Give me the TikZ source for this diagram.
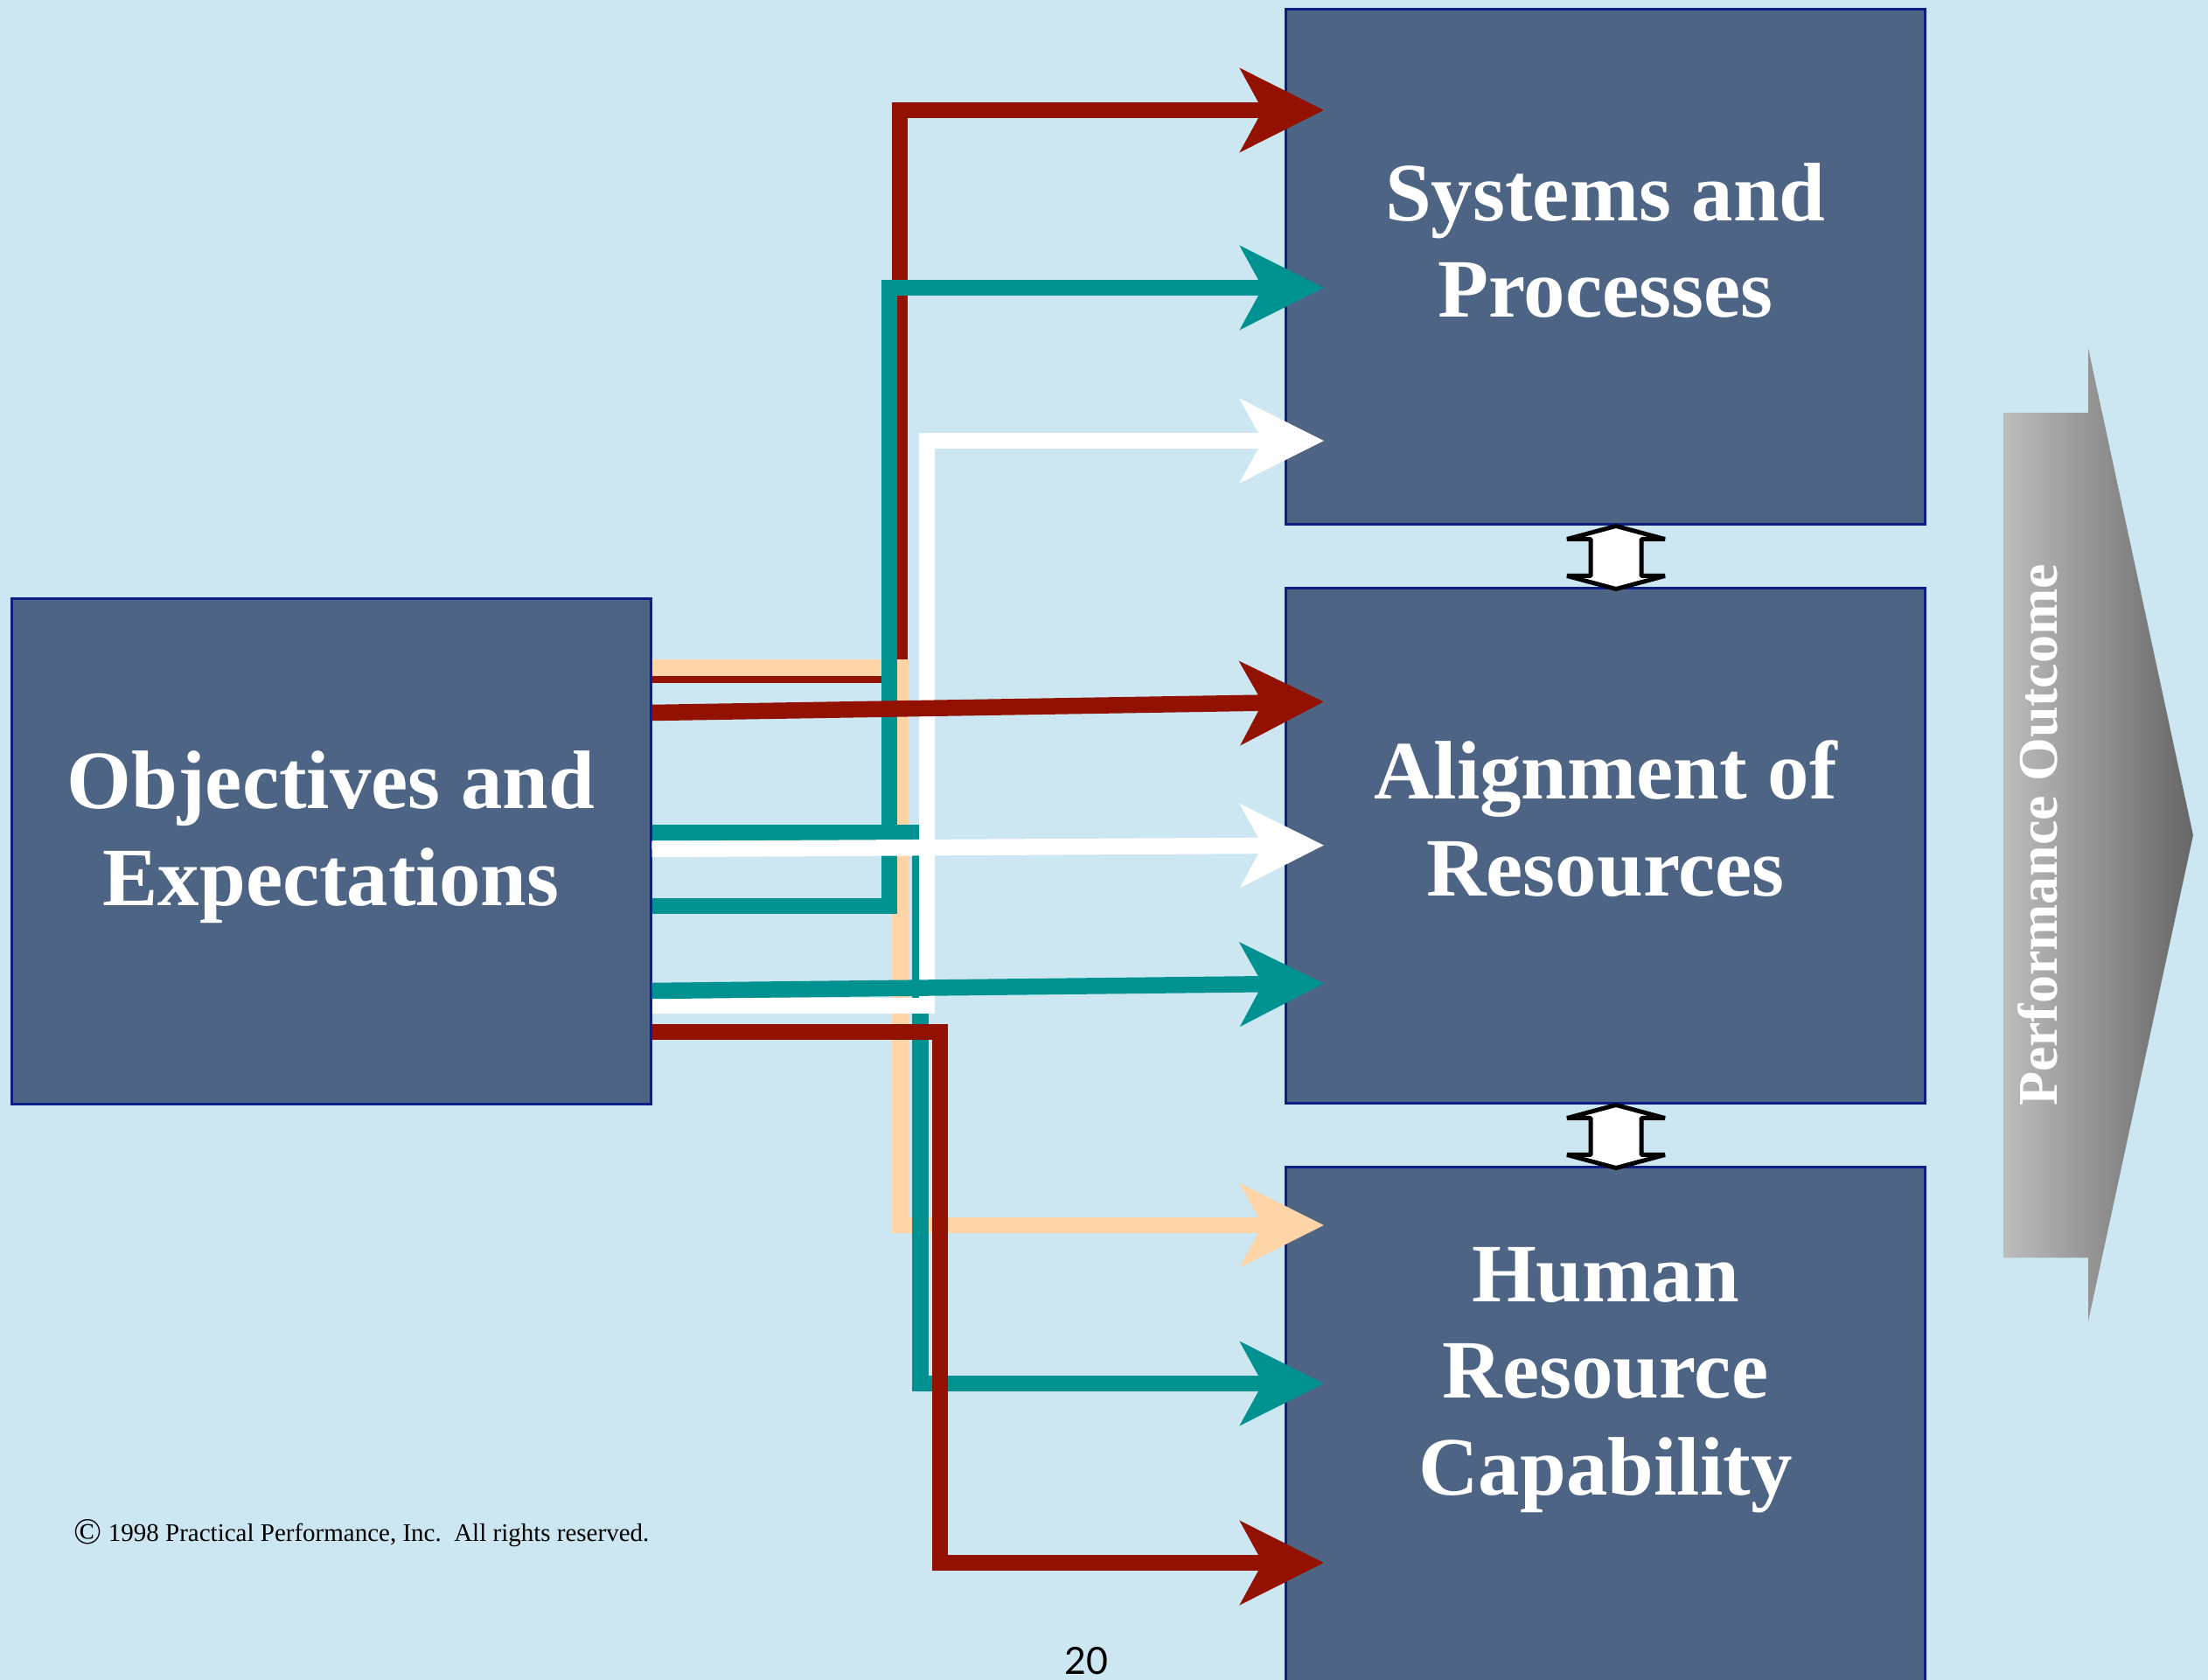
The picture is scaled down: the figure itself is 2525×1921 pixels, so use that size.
\documentclass[tikz,border=0pt]{standalone}
\usepackage{fontspec}
\setmainfont{Liberation Serif}
\newfontfamily\pagefont{Lato}
\usetikzlibrary{positioning,arrows.meta}

\definecolor{bgblue}{HTML}{CCE6F2}
\definecolor{boxblue}{HTML}{4E6485}
\definecolor{boxline}{HTML}{0D1E87}
\definecolor{flowred}{HTML}{931100}
\definecolor{flowteal}{HTML}{009191}
\definecolor{flowpeach}{HTML}{FFD4A6}
\definecolor{outlight}{HTML}{BDBDBD}
\definecolor{outdark}{HTML}{666666}

\begin{document}
\begin{tikzpicture}[x=0.1mm,y=-0.1mm,
    box/.style={draw=boxline,line width=0.3mm,fill=boxblue,minimum width=73.1mm,minimum height=58.9mm,inner sep=0pt},
    boxtext/.style={text=white,font=\bfseries\fontsize{27}{31.5}\selectfont,align=center},
    flow/.style={line width=1.85mm,-{Stealth[length=9.5mm,width=9.4mm,inset=2.5mm]}},
    updown/.style={draw=black,fill=white,line width=0.5mm,line join=bevel}]
                \useasboundingbox (0,0) rectangle (2525,1921);
                \clip (0,0) rectangle (2525,1921);
                \fill[bgblue] (0,0) rectangle (2525,1921);

                % the four blocks
                \node[box,minimum height=57.8mm] (objbox) at (378.5,973) {};
                \node[box] (sysbox) at (1836,305.5) {};
                \node[box,below=7mm of sysbox] (resbox) {};
                \node[box,below=7mm of resbox] (hrbox) {};
                \node[boxtext] (objtext) at ([yshift=1.6mm]objbox.center) {Objectives and\\Expectations};
                \node[boxtext] (systext) at ([yshift=3.05mm]sysbox.center) {Systems and\\Processes};
                \node[boxtext] (restext) at ([yshift=3.1mm]resbox.center) {Alignment of\\Resources};
                \node[boxtext] (hrtext) at ([yshift=5.15mm]hrbox.center) {Human\\Resource\\Capability};

                % flows, back to front
                \draw[flow,flowred] ([yshift=20.1mm]objbox.east) -- ++(283.5,0) |- ([xshift=4.5mm,yshift=17.95mm]sysbox.west);
                \draw[flow,flowpeach] ([yshift=20.95mm]objbox.east) -- ++(284,0) |- ([xshift=4.5mm,yshift=22.85mm]hrbox.west);
                \draw[flow,flowteal] ([yshift=-6.3mm]objbox.east) -- ++(271.5,0) |- ([xshift=4.5mm,yshift=-2.35mm]sysbox.west);
                \draw[flow,flowteal] ([yshift=2.1mm]objbox.east) -- ++(307,0) |- ([xshift=4.5mm,yshift=4.75mm]hrbox.west);
                \draw[flow,white] ([yshift=-17.7mm]objbox.east) -- ++(314.5,0) |- ([xshift=4.5mm,yshift=-19.85mm]sysbox.west);
                \draw[flow,flowred] ([yshift=15.8mm]objbox.east) -- ([xshift=4.5mm,yshift=16.5mm]resbox.west);
                \draw[flow,white] ([yshift=0.2mm]objbox.east) -- ([xshift=4.5mm,yshift=0.1mm]resbox.west);
                \draw[flow,flowteal] ([yshift=-16mm]objbox.east) -- ([xshift=4.5mm,yshift=-15.7mm]resbox.west);
                \draw[flow,flowred] ([yshift=-20.7mm]objbox.east) -- ++(329.5,0) |- ([xshift=4.5mm,yshift=-15.75mm]hrbox.west);

                % two-way arrows between the right blocks
                \draw[updown] ([xshift=1.2mm]sysbox.south) -- ++(56,15) -- ++(-27,0) -- ++(0,42) -- ++(27,0)
                    -- ++(-56,15) -- ++(-56,-15) -- ++(27,0) -- ++(0,-42) -- ++(-27,0) -- cycle;
                \draw[updown] ([xshift=1.2mm]resbox.south) -- ++(56,15) -- ++(-27,0) -- ++(0,42) -- ++(27,0)
                    -- ++(-56,15) -- ++(-56,-15) -- ++(27,0) -- ++(0,-42) -- ++(-27,0) -- cycle;

                % outcome arrow
                \shade[left color=outlight,right color=outdark] (2291,472) -- (2388,472) -- (2388,398) -- (2508,955)
                    -- (2388,1511) -- (2388,1438) -- (2291,1438) -- cycle;
                \node[rotate=90,text=white,font=\bfseries\fontsize{18.2}{20}\selectfont] (perf) at (2330,955) {Performance Outcome};

                \node[anchor=base west,inner sep=0pt,font=\fontsize{8.25}{10}\selectfont] (copy) at (84,1762)
                    {\raisebox{-0.12em}{\fontsize{12}{12}\selectfont ©} 1998 Practical Performance, Inc.\ \ All rights reserved.};
                \node[anchor=base,font=\pagefont\fontsize{12.2}{14}\selectfont] (pageno) at (1242,1914) {20};
\end{tikzpicture}
\end{document}
